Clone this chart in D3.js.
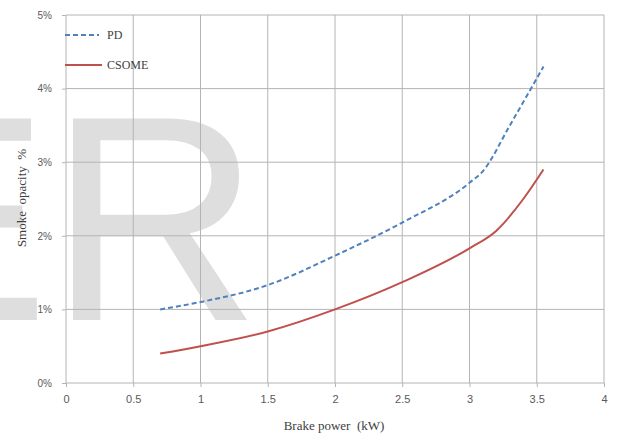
<!DOCTYPE html>
<html>
<head>
<meta charset="utf-8">
<script src="https://cdn.jsdelivr.net/npm/d3@7"></script>
<style>
body { margin: 0; background: #fff; }
.grid line { stroke: #b4b4b4; stroke-width: 1; }
.axis text { font-family: "Liberation Sans", sans-serif; font-size: 10px; fill: #595959; }
.axis path { display: none; }
.axis line { stroke: #b4b4b4; }
</style>
</head>
<body>
<svg width="619" height="436"></svg>
<script>
var powerPD = [0.7, 1.0, 1.5, 2.0, 2.5, 3.0, 3.1, 3.3, 3.55];
var opacityPD = [1.0, 1.1, 1.33, 1.73, 2.18, 2.72, 2.88, 3.5, 4.3];
var powerCS = [0.7, 1.0, 1.5, 2.0, 2.5, 3.0, 3.2, 3.4, 3.55];
var opacityCS = [0.40, 0.5, 0.7, 1.0, 1.37, 1.83, 2.07, 2.5, 2.9];
var xTicks = [0, 0.5, 1, 1.5, 2, 2.5, 3, 3.5, 4];
var yTicks = [0, 1, 2, 3, 4, 5];

var svg = d3.select("svg");
var margin = {top: 15, right: 15, bottom: 53, left: 66};
var width = 619 - margin.left - margin.right,
    height = 436 - margin.top - margin.bottom;

var x = d3.scaleLinear().domain([0, 4]).range([0, width]);
var y = d3.scaleLinear().domain([0, 5]).range([height, 0]);

// faint watermark behind the plot
svg.append("text")
    .attr("x", -146).attr("y", 320)
    .style("font-family", "Liberation Sans, sans-serif")
    .style("font-size", "293px")
    .attr("fill", "#dedede")
    .text("E");
svg.append("text")
    .attr("x", 49).attr("y", 320)
    .style("font-family", "Liberation Sans, sans-serif")
    .style("font-size", "293px")
    .attr("fill", "#dedede")
    .text("R");

var g = svg.append("g")
    .attr("transform", "translate(" + margin.left + "," + margin.top + ")");

g.append("g")
    .attr("class", "grid")
    .selectAll("line.v").data(xTicks).enter().append("line")
    .attr("x1", function(d) { return x(d); })
    .attr("x2", function(d) { return x(d); })
    .attr("y1", 0).attr("y2", height);

g.append("g")
    .attr("class", "grid")
    .selectAll("line.h").data(yTicks).enter().append("line")
    .attr("x1", 0).attr("x2", width)
    .attr("y1", function(d) { return y(d); })
    .attr("y2", function(d) { return y(d); });

g.append("g")
    .attr("class", "axis")
    .attr("transform", "translate(0," + height + ")")
    .call(d3.axisBottom(x).tickValues(xTicks).tickSize(4).tickPadding(8)
      .tickFormat(function(d) { return d; }))
    .selectAll("text").style("font-size", "11px");

g.append("g")
    .attr("class", "axis")
    .call(d3.axisLeft(y).tickValues(yTicks).tickSize(4).tickPadding(10)
      .tickFormat(function(d) { return d + "%"; }));

var line = d3.line()
    .curve(d3.curveMonotoneX)
    .x(function(d) { return x(d[0]); })
    .y(function(d) { return y(d[1]); });

g.append("path")
    .datum(d3.zip(powerPD, opacityPD))
    .attr("fill", "none")
    .attr("stroke", "#4f81bd")
    .attr("stroke-width", 2)
    .attr("stroke-dasharray", "5,3")
    .attr("d", line);

g.append("path")
    .datum(d3.zip(powerCS, opacityCS))
    .attr("fill", "none")
    .attr("stroke", "#c0504d")
    .attr("stroke-width", 2)
    .attr("d", line);

// legend
var legend = svg.append("g").attr("class", "legend");
legend.append("line")
    .attr("x1", 65).attr("x2", 99).attr("y1", 35).attr("y2", 35)
    .attr("stroke", "#4f81bd").attr("stroke-width", 2)
    .attr("stroke-dasharray", "5,3");
legend.append("text")
    .attr("x", 107).attr("y", 39)
    .style("font-family", "Liberation Serif, serif")
    .style("font-size", "12px").attr("fill", "#404040")
    .text("PD");
legend.append("line")
    .attr("x1", 65).attr("x2", 102).attr("y1", 65).attr("y2", 65)
    .attr("stroke", "#c0504d").attr("stroke-width", 2);
legend.append("text")
    .attr("x", 107).attr("y", 69)
    .style("font-family", "Liberation Serif, serif")
    .style("font-size", "12px").attr("fill", "#404040")
    .text("CSOME");

// axis titles
svg.append("text")
    .attr("x", 334).attr("y", 430)
    .attr("text-anchor", "middle")
    .style("font-family", "Liberation Serif, serif")
    .style("font-size", "13px").attr("fill", "#404040")
    .style("white-space", "pre")
    .text("Brake power  (kW)");

svg.append("text")
    .attr("transform", "translate(26,198) rotate(-90)")
    .attr("text-anchor", "middle")
    .style("font-family", "Liberation Serif, serif")
    .style("font-size", "13px").attr("fill", "#404040")
    .style("white-space", "pre")
    .text("Smoke  opacity  %");
</script>
</body>
</html>
